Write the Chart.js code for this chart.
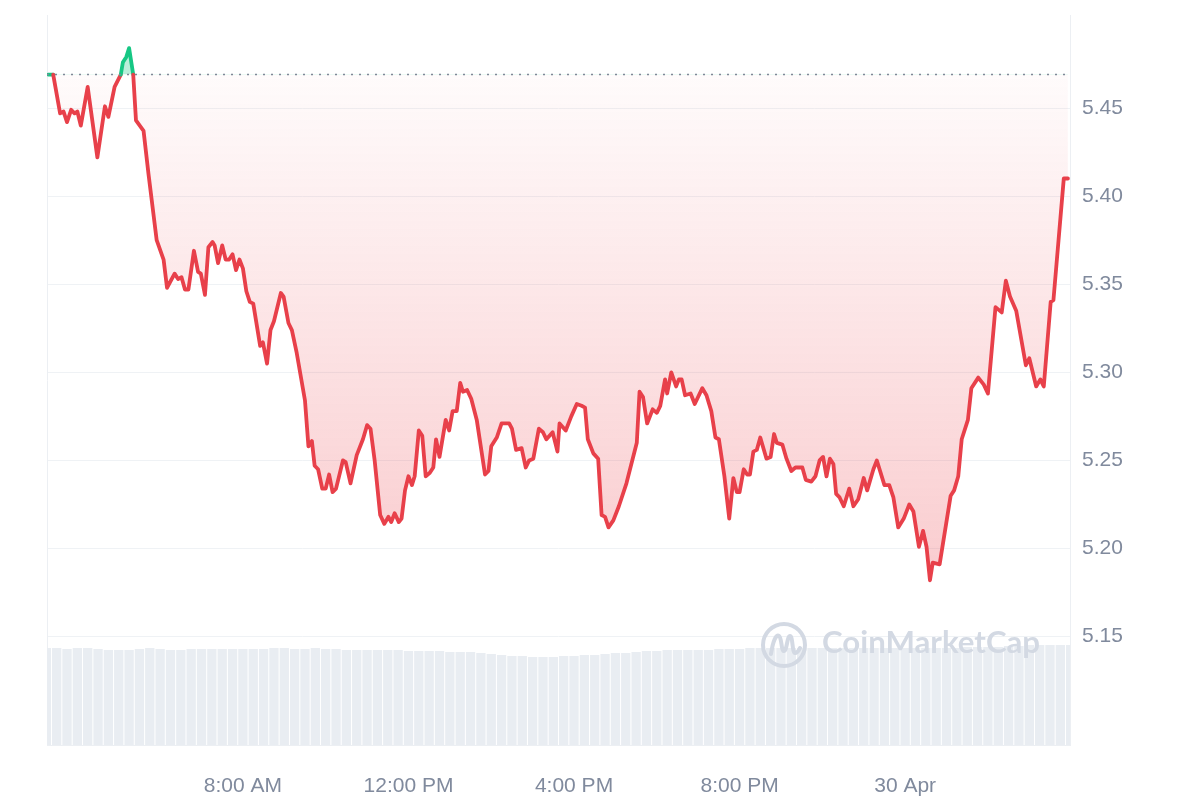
<!DOCTYPE html>
<html>
<head>
<meta charset="utf-8">
<script src="https://cdn.jsdelivr.net/npm/chart.js@4.4.1/dist/chart.umd.min.js"></script>
<style>
  html, body { margin: 0; padding: 0; background: #fff; }
  #wrap { width: 1200px; height: 800px; }
</style>
</head>
<body>
<div id="wrap"><canvas id="priceChart" width="1200" height="800"></canvas></div>
<script>
// time in minutes from 00:00, 29 Apr (values > 1440 are 30 Apr)
const times = [
  198,205,215,220,225,231,236,240,245,255,
  269,280,285,294,303,306,311,315,321,325,
  336,343,355,365,370,381,386,391,396,401,
  409,415,419,425,430,436,439,444,450,455,
  460,465,470,475,480,485,490,495,505,509,
  515,520,525,535,539,546,551,558,570,575,
  580,584,589,595,600,605,610,615,625,629,
  636,645,654,660,665,671,679,685,691,695,
  700,706,710,715,720,725,729,735,740,745,
  751,756,760,765,774,779,784,790,795,799,
  805,811,819,831,836,840,848,855,861,866,
  870,876,884,890,895,901,909,915,920,929,
  936,939,948,956,964,971,976,980,988,995,
  1000,1005,1010,1017,1025,1036,1051,1055,1060,1066,
  1074,1080,1085,1092,1095,1101,1108,1112,1116,1121,
  1129,1135,1146,1152,1159,1165,1170,1178,1185,1191,
  1196,1200,1206,1211,1215,1220,1225,1230,1239,1245,
  1250,1254,1262,1268,1275,1281,1286,1291,1296,1304,
  1310,1316,1321,1326,1331,1336,1340,1345,1351,1359,
  1365,1372,1380,1385,1394,1399,1410,1417,1423,1430,
  1438,1446,1452,1460,1466,1471,1476,1480,1490,1506,
  1511,1517,1522,1531,1536,1546,1554,1560,1571,1580,
  1586,1592,1601,1615,1620,1630,1636,1641,1651,1655,
  1670,1676
];

const prices = [
  5.469,5.469,5.447,5.448,5.442,5.449,5.447,5.448,5.440,5.462,
  5.422,5.451,5.445,5.462,5.469,5.476,5.479,5.484,5.469,5.443,
  5.437,5.413,5.375,5.364,5.348,5.356,5.353,5.354,5.347,5.347,
  5.369,5.357,5.356,5.344,5.371,5.374,5.372,5.362,5.372,5.364,
  5.364,5.367,5.358,5.364,5.359,5.346,5.340,5.339,5.315,5.317,
  5.305,5.324,5.329,5.345,5.343,5.328,5.324,5.311,5.284,5.258,
  5.261,5.247,5.245,5.234,5.234,5.242,5.232,5.234,5.250,5.249,
  5.237,5.253,5.262,5.270,5.268,5.250,5.219,5.214,5.218,5.215,
  5.220,5.215,5.217,5.233,5.241,5.236,5.241,5.267,5.264,5.241,
  5.243,5.246,5.262,5.252,5.273,5.267,5.278,5.278,5.294,5.289,
  5.290,5.285,5.273,5.242,5.244,5.258,5.263,5.271,5.271,5.271,
  5.268,5.256,5.257,5.246,5.250,5.251,5.268,5.266,5.262,5.266,
  5.255,5.271,5.267,5.275,5.282,5.281,5.280,5.262,5.254,5.251,
  5.219,5.218,5.212,5.216,5.224,5.237,5.260,5.289,5.286,5.271,
  5.279,5.277,5.281,5.296,5.288,5.300,5.292,5.296,5.296,5.287,
  5.288,5.282,5.291,5.287,5.278,5.263,5.262,5.241,5.217,5.240,
  5.232,5.232,5.245,5.242,5.242,5.255,5.256,5.263,5.251,5.252,
  5.265,5.260,5.259,5.251,5.244,5.246,5.246,5.246,5.239,5.238,
  5.241,5.250,5.252,5.241,5.251,5.248,5.231,5.229,5.224,5.234,
  5.224,5.228,5.240,5.233,5.245,5.250,5.236,5.236,5.229,5.212,
  5.217,5.225,5.221,5.201,5.210,5.201,5.182,5.192,5.191,5.230,
  5.233,5.241,5.262,5.273,5.291,5.297,5.293,5.288,5.337,5.334,
  5.352,5.343,5.335,5.304,5.308,5.292,5.296,5.292,5.340,5.341,
  5.410,5.410
];

// volume bars, 15 minute buckets (millions)
const volTimes = [
  195,210,225,240,255,270,285,300,315,330,
  345,360,375,390,405,420,435,450,465,480,
  495,510,525,540,555,570,585,600,615,630,
  645,660,675,690,705,720,735,750,765,780,
  795,810,825,840,855,870,885,900,915,930,
  945,960,975,990,1005,1020,1035,1050,1065,1080,
  1095,1110,1125,1140,1155,1170,1185,1200,1215,1230,
  1245,1260,1275,1290,1305,1320,1335,1350,1365,1380,
  1395,1410,1425,1440,1455,1470,1485,1500,1515,1530,
  1545,1560,1575,1590,1605,1620,1635,1650,1665,1680
];

const volumes = [
  4.85,4.85,4.80,4.85,4.85,4.80,4.75,4.75,4.75,4.80,
  4.85,4.80,4.75,4.75,4.80,4.80,4.80,4.80,4.80,4.80,
  4.80,4.80,4.85,4.85,4.80,4.80,4.85,4.80,4.80,4.75,
  4.75,4.75,4.75,4.75,4.75,4.70,4.70,4.70,4.70,4.65,
  4.65,4.65,4.60,4.55,4.50,4.45,4.45,4.40,4.40,4.40,
  4.45,4.45,4.50,4.50,4.55,4.60,4.60,4.65,4.70,4.70,
  4.75,4.75,4.75,4.75,4.75,4.80,4.80,4.80,4.85,4.85,
  4.85,4.85,4.85,4.85,4.85,4.85,4.85,4.85,4.85,4.85,
  4.85,4.85,4.85,4.85,4.85,4.85,4.85,4.85,4.85,4.90,
  4.90,4.90,4.90,4.95,4.95,5.00,5.00,5.00,5.00,5.00
];

const openPrice = 5.469;
const xMin = 196, xMax = 1679;
const xTicks = [480, 720, 960, 1200, 1440];
const xTickLabels = ["8:00 AM", "12:00 PM", "4:00 PM", "8:00 PM", "30 Apr"];
const yTicks = [5.15, 5.20, 5.25, 5.30, 5.35, 5.40, 5.45];

const RED = "#e8404a";
const GREEN = "#16c784";
const LABEL = "#808a9d";
const FONT = "'Liberation Sans', Arial, sans-serif";

function redGradient(chart) {
  const y = chart.scales && chart.scales.y;
  if (!y || !chart.chartArea) return "rgba(234,57,67,0.1)";
  const top = y.getPixelForValue(openPrice);
  const bottom = y.getPixelForValue(5.18);
  if (!isFinite(top) || !isFinite(bottom) || top === bottom) return "rgba(234,57,67,0.1)";
  const g = chart.ctx.createLinearGradient(0, top, 0, bottom);
  g.addColorStop(0, "rgba(234,57,67,0.02)");
  g.addColorStop(1, "rgba(234,57,67,0.26)");
  return g;
}

// CoinMarketCap watermark
const watermark = {
  id: "watermark",
  afterDatasetsDraw(chart) {
    const ctx = chart.ctx;
    const a = chart.chartArea;
    const cx = a.right - 286, cy = a.bottom - 100;
    ctx.save();
    ctx.strokeStyle = "#d3d9e3";
    ctx.lineWidth = 4;
    ctx.lineCap = "round";
    ctx.lineJoin = "round";
    ctx.beginPath();
    ctx.arc(cx, cy, 21, 0, Math.PI * 2);
    ctx.stroke();
    ctx.beginPath();
    ctx.moveTo(cx - 13, cy + 9);
    ctx.bezierCurveTo(cx - 11, cy - 4, cx - 8, cy - 11, cx - 5, cy - 9);
    ctx.bezierCurveTo(cx - 2, cy - 7, cx - 3, cy + 6, cx, cy + 6);
    ctx.bezierCurveTo(cx + 3, cy + 6, cx + 3, cy - 9, cx + 6, cy - 9);
    ctx.bezierCurveTo(cx + 9, cy - 9, cx + 8, cy + 8, cx + 11, cy + 8);
    ctx.bezierCurveTo(cx + 13, cy + 8, cx + 15, cy + 5, cx + 16, cy + 3);
    ctx.stroke();

    let size = 28;
    ctx.font = "700 " + size + "px Lato, 'Open Sans', sans-serif";
    const w = ctx.measureText("CoinMarketCap").width;
    size = size * 218 / w;
    ctx.font = "700 " + size.toFixed(1) + "px Lato, 'Open Sans', sans-serif";
    ctx.fillStyle = "#d3d9e3";
    ctx.textBaseline = "alphabetic";
    ctx.fillText("CoinMarketCap", a.right - 248, a.bottom - 92);
    ctx.restore();
  }
};

new Chart(document.getElementById("priceChart"), {
  type: "line",
  data: {
    datasets: [
      {
        type: "line",
        label: "Price",
        data: times.map((t, i) => ({ x: t, y: prices[i] })),
        yAxisID: "y",
        borderColor: RED,
        borderWidth: 3.8,
        borderJoinStyle: "round",
        borderCapStyle: "round",
        pointRadius: 0,
        tension: 0,
        segment: {
          borderColor: ctx =>
            (ctx.p0.parsed.y >= openPrice - 1e-6 && ctx.p1.parsed.y >= openPrice - 1e-6) ? GREEN : RED
        },
        fill: ctx => ({
          target: { value: openPrice },
          above: "rgba(22,199,132,0.3)",
          below: redGradient(ctx.chart)
        }),
        order: 1
      },
      {
        type: "line",
        label: "Open",
        data: [{ x: xMin, y: openPrice }, { x: xMax, y: openPrice }],
        yAxisID: "y",
        borderColor: "#7f8797",
        borderWidth: 1.6,
        borderDash: [2, 6],
        pointRadius: 0,
        fill: false,
        order: 0
      },
      {
        type: "bar",
        label: "Volume",
        data: volTimes.map((t, i) => ({ x: t, y: volumes[i] })),
        yAxisID: "yVol",
        backgroundColor: "#e9edf2",
        borderWidth: 0,
        barPercentage: 0.9,
        categoryPercentage: 1,
        order: 3
      }
    ]
  },
  options: {
    responsive: false,
    animation: false,
    devicePixelRatio: 1,
    layout: { padding: { top: 15, left: 0, right: 0, bottom: 0 } },
    plugins: {
      legend: { display: false },
      tooltip: { enabled: false }
    },
    scales: {
      x: {
        type: "linear",
        min: xMin,
        max: xMax,
        offset: false,
        grid: { display: false, drawTicks: false },
        border: { display: true, color: "#eceff3" },
        afterBuildTicks: s => { s.ticks = xTicks.map(v => ({ value: v })); },
        ticks: {
          autoSkip: false,
          maxRotation: 0,
          padding: 29,
          color: LABEL,
          font: { size: 21, family: FONT },
          callback: (v, i) => xTickLabels[i]
        },
        afterFit: s => { s.height = 55; s.paddingLeft = 0; s.paddingRight = 0; }
      },
      y: {
        position: "right",
        min: 5.0885,
        max: 5.5028,
        afterBuildTicks: s => { s.ticks = yTicks.map(v => ({ value: v })); },
        grid: { color: "#eff2f5", drawTicks: false },
        border: { display: true, color: "#eceff3" },
        ticks: {
          padding: 12,
          color: LABEL,
          font: { size: 21, family: FONT },
          callback: v => Number(v).toFixed(2)
        },
        afterFit: s => { s.width = 130; s.paddingTop = 0; s.paddingBottom = 0; }
      },
      yVol: {
        position: "left",
        min: 0,
        max: 36.5,
        grid: { display: false, drawTicks: false },
        border: { display: true, color: "#eceff3" },
        ticks: { display: false },
        afterFit: s => { s.width = 47; s.paddingTop = 0; s.paddingBottom = 0; }
      }
    }
  },
  plugins: [watermark]
});
</script>
</body>
</html>
